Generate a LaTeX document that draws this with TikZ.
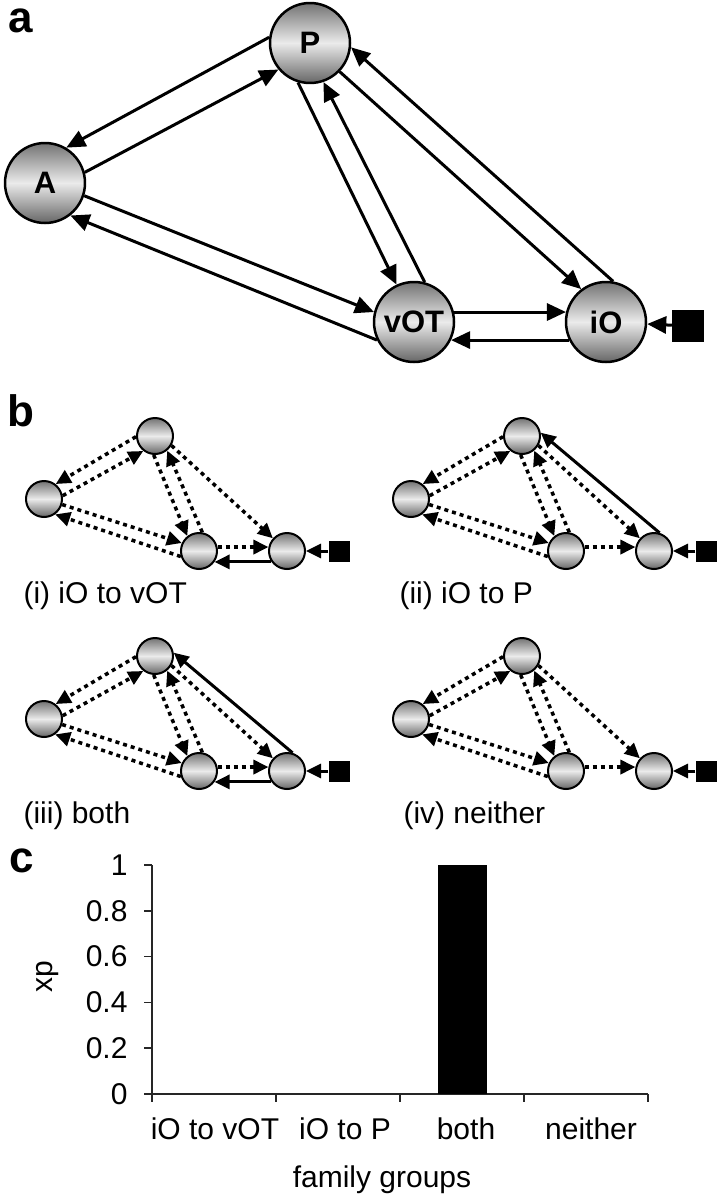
\documentclass[tikz,border=0pt]{standalone}
\usepackage{fontspec}
\setmainfont{Liberation Sans}
\usetikzlibrary{arrows.meta}
\tikzset{
  big node/.style={circle, draw=black, line width=2.5pt, minimum size=80pt, inner sep=0pt,
    top color=black!55, bottom color=black!60, middle color=black!8,
    font=\fontsize{31}{36}\selectfont\bfseries},
  small node/.style={circle, draw=black, line width=2pt, minimum size=36pt, inner sep=0pt,
    top color=black!55, bottom color=black!60, middle color=black!8},
  input/.style={fill=black, inner sep=0pt},
  big arrow/.style={line width=3pt, -{Triangle[length=19pt,width=17pt]}},
  small arrow/.style={line width=3pt, -{Triangle[length=15pt,width=14pt]}},
  dot arrow/.style={small arrow, line width=3.5pt, dash pattern=on 4pt off 4pt},
  panel/.style={font=\fontsize{44}{50}\selectfont\bfseries},
  label text/.style={font=\fontsize{30}{36}\selectfont},
  axis line/.style={line width=1.5pt, draw=black!85}
}
\begin{document}
\begin{tikzpicture}[x=1pt, y=-1pt, line join=round]
  \useasboundingbox (0,0) rectangle (720,1199);
  % a
  \node[panel] (a) at (21,21) {a};
  \node[big node] (P) at (310,43) {P};
  \node[big node] (A) at (45,183) {A};
  \node[big node] (vOT) at (414,322) {vOT};
  \node[big node] (iO) at (606,322) {iO};
  \node[input, minimum size=32pt] (in) at (688,326) {};
  \draw[big arrow] (P.172) -- (A.59);
  \draw[big arrow] (A.15) -- (P.220);
  \draw[big arrow] (A.342) -- (vOT.166);
  \draw[big arrow] (vOT.206) -- (A.308);
  \draw[big arrow] (P.253) -- (vOT.115);
  \draw[big arrow] (vOT.75) -- (P.289);
  \draw[big arrow] (P.316) -- (iO.127);
  \draw[big arrow] (iO.80) -- (P.354);
  \draw[big arrow] (vOT.14) -- (iO.166);
  \draw[big arrow] (iO.206) -- (vOT.334);
  \draw[big arrow] (in) -- (iO);
  % b
  \node[panel] (b) at (21,411) {b};
  \foreach \n/\dx/\dy/\lx/\txt in {1/0/0/20/{(i) iO to vOT}, 2/367/0/29/{(ii) iO to P},
                                   3/0/220/20/{(iii) both}, 4/367/220/33/{(iv) neither}}
  {
    \begin{scope}[shift={(\dx,\dy)}]
      \node[small node] (P\n) at (155,436) {};
      \node[small node] (A\n) at (44,499) {};
      \node[small node] (vOT\n) at (199,551) {};
      \node[small node] (iO\n) at (287,551) {};
      \node[input, minimum size=21pt] (in\n) at (339,551) {};
      \draw[dot arrow] (P\n.182) -- (A\n.52);
      \draw[dot arrow] (A\n.10) -- (P\n.232);
      \draw[dot arrow] (P\n.266) -- (vOT\n.128);
      \draw[dot arrow] (vOT\n.80) -- (P\n.310);
      \draw[dot arrow] (P\n.330) -- (iO\n.138);
      \draw[dot arrow] (A\n.343) -- (vOT\n.155);
      \draw[dot arrow] (vOT\n.197) -- (A\n.306);
      \draw[dot arrow] (vOT\n.12) -- (iO\n.168);
      \draw[small arrow] (in\n) -- (iO\n);
      \node[label text, anchor=west] (cap\n) at (\lx,596) {\txt};
    \end{scope}
  }
  \draw[small arrow] (iO1.215) -- (vOT1.325);
  \draw[small arrow] (iO3.215) -- (vOT3.325);
  \draw[small arrow] (iO2.73) -- (P2.10);
  \draw[small arrow] (iO3.73) -- (P3.10);
  % c
  \node[panel] (c) at (22,861) {c};
  \draw[axis line] (152,865) -- (152,1094) -- (648,1094);
  \foreach \v [count=\i from 0] in {0,0.2,0.4,0.6,0.8,1}
  {
    \draw[axis line] (144,{1094-\i*45.8}) -- (152,{1094-\i*45.8});
    \node[label text, anchor=east] at (131,{1094-\i*45.8}) {\v};
  }
  \foreach \x in {152,276,400,524,648}
    \draw[axis line] (\x,1094) -- (\x,1102);
  \fill (438,865) rectangle (487,1094);
  \foreach \x/\t in {215/iO to vOT, 345/iO to P, 466/both, 591/neither}
    \node[label text] at (\x,1129) {\t};
  \node[label text, rotate=90] (xp) at (48,977) {xp};
  \node[label text] (fg) at (382,1180) {family groups};
\end{tikzpicture}
\end{document}
